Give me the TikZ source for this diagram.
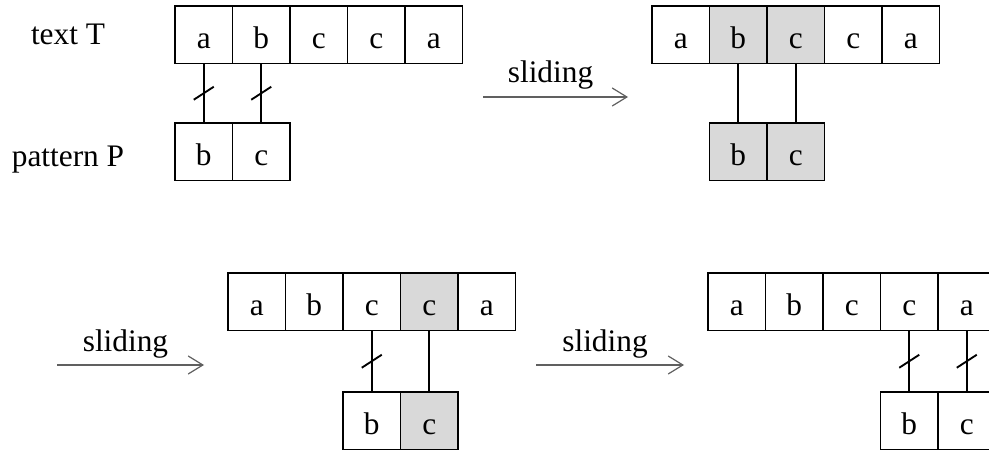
\documentclass[tikz,border=0pt]{standalone}
\usepackage{fontspec}
\setmainfont{Liberation Serif}
\usetikzlibrary{arrows.meta}
\definecolor{cellgray}{HTML}{D9D9D9}
\definecolor{arrgray}{HTML}{606060}
\tikzset{
  cell/.style={draw=black, line width=1.4pt, minimum width=43.125pt, minimum height=43.125pt,
    inner sep=0pt, text height=19.9pt, text depth=0pt, font=\fontsize{23.5}{28}\selectfont},
  lbl/.style={font=\fontsize{23.5}{28}\selectfont, inner sep=0pt, anchor=base},
  conn/.style={line width=1.4pt, draw=black},
  slashmark/.style={line width=1.4pt, draw=black},
  slidearrow/.style={draw=arrgray, line width=0.9pt, -{Straight Barb[length=11pt,width=13.5pt,line width=0.9pt]}},
}
\begin{document}
\begin{tikzpicture}[x=0.75pt,y=-0.75pt]
\clip (0,0) rectangle (989,452);
\fill[white] (0,0) rectangle (989,452);

% labels
\node[lbl] (lt) at (68,45) {text T};
\node[lbl] (lp) at (68,167) {pattern P};

% panel 1
\foreach \l/\f [count=\i] in {a/white,b/white,c/white,c/white,a/white}
  \node[cell, fill=\f] (t1\i) at (175+57.5*\i-28.75, 34.75) {\l};
\foreach \l/\f [count=\i] in {b/white,c/white}
  \node[cell, fill=\f] (p1\i) at (175+57.5*\i-28.75, 151.75) {\l};
\draw[conn] (t11.south) -- coordinate[midway] (m11) (p11.north);
\draw[conn] (t12.south) -- coordinate[midway] (m12) (p12.north);
\draw[slashmark] (m11) ++(-10,6.5) -- ++(20,-13);
\draw[slashmark] (m12) ++(-10,6.5) -- ++(20,-13);

% arrow 1
\coordinate (a1s) at (483,97);
\coordinate (a1e) at (628,97);
\draw[slidearrow] (a1s) -- node[lbl, midway, yshift=10.5pt, xshift=-3.75pt] {sliding} (a1e);

% panel 2
\foreach \l/\f [count=\i] in {a/white,b/cellgray,c/cellgray,c/white,a/white}
  \node[cell, fill=\f] (t2\i) at (652+57.5*\i-28.75, 34.75) {\l};
\foreach \l/\f [count=\i] in {b/cellgray,c/cellgray}
  \node[cell, fill=\f] (p2\i) at (709.5+57.5*\i-28.75, 151.75) {\l};
\draw[conn] (t22.south) -- (p21.north);
\draw[conn] (t23.south) -- (p22.north);

% arrow 3
\coordinate (a3s) at (57,365);
\coordinate (a3e) at (204,365);
\draw[slidearrow] (a3s) -- node[lbl, midway, yshift=10.5pt, xshift=-3.75pt] {sliding} (a3e);

% panel 3
\foreach \l/\f [count=\i] in {a/white,b/white,c/white,c/cellgray,a/white}
  \node[cell, fill=\f] (t3\i) at (228+57.5*\i-28.75, 301.75) {\l};
\foreach \l/\f [count=\i] in {b/white,c/cellgray}
  \node[cell, fill=\f] (p3\i) at (343+57.5*\i-28.75, 420.75) {\l};
\draw[conn] (t33.south) -- coordinate[midway] (m31) (p31.north);
\draw[conn] (t34.south) -- (p32.north);
\draw[slashmark] (m31) ++(-10,6.5) -- ++(20,-13);

% arrow 4
\coordinate (a4s) at (536,365);
\coordinate (a4e) at (684,365);
\draw[slidearrow] (a4s) -- node[lbl, midway, yshift=10.5pt, xshift=-3.75pt] {sliding} (a4e);

% panel 4
\foreach \l/\f [count=\i] in {a/white,b/white,c/white,c/white,a/white}
  \node[cell, fill=\f] (t4\i) at (708+57.5*\i-28.75, 301.75) {\l};
\foreach \l/\f [count=\i] in {b/white,c/white}
  \node[cell, fill=\f] (p4\i) at (880.5+57.5*\i-28.75, 420.75) {\l};
\draw[conn] (t44.south) -- coordinate[midway] (m41) (p41.north);
\draw[conn] (t45.south) -- coordinate[midway] (m42) (p42.north);
\draw[slashmark] (m41) ++(-10,6.5) -- ++(20,-13);
\draw[slashmark] (m42) ++(-10,6.5) -- ++(20,-13);
\end{tikzpicture}
\end{document}
